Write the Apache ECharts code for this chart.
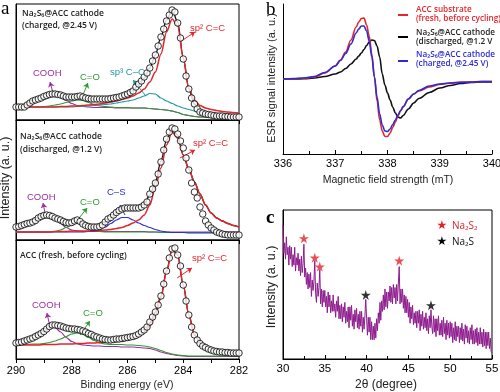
<!DOCTYPE html>
<html><head><meta charset="utf-8">
<script src="https://cdn.jsdelivr.net/npm/echarts/dist/echarts.min.js"></script>
<style>html,body{margin:0;padding:0;background:#fff}#c{width:500px;height:392px}</style>
</head><body><div id="c"></div>
<script>
// ================= DATA =================
// Panel a: XPS C1s, binding energy from 290 eV downward
const xpsStart = 290;
const xpsStepPoints = 0.1;   // measured points (circles)
const xpsStepFit = 0.2;      // fitted curves
const xpsTicks = [290, 288, 286, 284, 282];

// a1 – charged @2.45 V
const a1Points = [13,13,13,13,15,17,19,20,21,22, 23.5,24.5,25.5,26,26,25.5,25,24,23,23, 23,23,23.5,24,23,22,21.5,21,21,21,
  21,21,21,21,21.5,22,22.5,23,24,25, 26,27.5,29,33,36,39,43,47,52,59, 65,74,83,91,99,105,110,108,97,82,
  61,44,31,22,16,11,8,7,6,5.5, 5,4.5,4,4,4,3.5,3.5,3,3,3,3];
const a1Env    = [13,13,15,19,21,23.5,25.5,26,25,23.5, 23,23,22.5,21.5,21,21,21,21.5,22.5,24, 26,29.5,35,42,52,65,83,100,110,98, 62,31,16,9,6.5,5,4.5,4,3.5,3.5,3];
const a1Sp2    = [13,13,13,13,13,13,13,13,13.5,13.5, 14,14,14.5,15,15.5,16,17,18,19,20.5, 22,24,27,31,38,48,66,88,101,94, 62,32,20,14.5,12,10.5,9.5,8.5,8,7.5,7];
const a1Sp3    = [13,13,13,13,13,13,13,13,13,13, 13,13.5,13.5,14,14.5,15,15.5,16,17,18, 19,20,22,24,26.5,26,22,19,16.5,14, 12,10.5,9,8,7,6.5,6,5.5,5.5,5,5];
const a1CO     = [13,13,13,13,13,13.5,14,15,16,17.5, 19,20,19.5,17.5,15.5,14,13.5,13,12.5,12.5, 12.5,12,12,12,11.5,11,10.5,10,9,7.5, 5.5,4.5,3.5,3,3,3,3,3,3,3,3];
const a1COOH   = [13,13.5,14.5,16.5,19,22,24.5,25,23,19.5, 16.5,14.5,13.5,13,12.5,12.5,12.5,12.5,12,12, 12,12,12,12,11.5,11,10.5,10,9,7.5, 5.5,4.5,3.5,3,3,3,3,3,3,3,3];

// a2 – discharged @1.2 V
const a2Points = [13,13.5,14.5,15.5,16.5,17,18,19.5,22,23.5, 24.5,25,24.5,23.5,22,21,20,18.5,17.5,17, 17.5,19,20,18.5,16,14.5,13.5,13,13,13,
  13.5,15,18,21,22.5,25,27.5,29.5,31,32, 32,32,32,32,32,33,35,38,46,51, 57,66,78,90,101,108,112,111,106,99,
  92,82,70,57,48,42,33,26,19,15, 12,10,8,7,6,5.5,5,5,5,5,5];
const a2Env    = [13,14.5,16.5,18.5,22,24.5,24.5,22,20,18, 18,19.5,16.5,14,13.5,14,18,23,27.5,30.5, 31.5,31.5,32.5,36,45,58,79,100,111,105, 85,71,58,46,35,27,22,19,16.5,14.5,13];
const a2Sp2    = [8,8,8,8,8,8,8,8.5,8.5,8.5, 9,9,9,9,9.5,9.5,10,10.5,11.5,12.5, 14.5,17,20,25,35,53,72,95,108,102, 85,71,58,46,35,27,22,19,16.5,14.5,13];
const a2CS     = [8,8,8,8,8,8,8,8,8,8, 8,8,8,8.5,9,10.5,13,16.5,20,22.5, 22.5,20,17,14.5,12.5,10.5,9,8,7.5,7.5, 7.5,7,7,7,7,7,7,7,7,7,7];
const a2CO     = [8,8,8,8,8,8,8,8.5,10,12.5, 15.5,17,15.5,12.5,10,8.5,8,8,8,8, 8,8,8,8,8,8,7.5,7.5,7.5,7.5, 7.5,7.5,7.5,7.5,7.5,7.5,7.5,7.5,7.5,7.5,7.5];
const a2COOH   = [12,14,16.5,19.5,22.5,24.5,24,21,16.5,12.5, 10,9,8.5,8.5,8.5,8.5,8.5,8.5,8.5,8.5, 8.5,8.5,8.5,8.5,8,8,8,8,8,8, 8,8,8,8,8,8,8,8,8,8,8];

// a3 – ACC fresh
const a3Points = [16,16.5,17,18,19,20,21,22.5,24,25.5, 27.5,30,32.5,34,34,33.5,33,32,31,30.5, 30,30,29.5,29,28,27,25.5,24.5,23,22,
  21,20,19.5,19,19,19.5,20,20,20.5,21, 21.5,22,22.5,23.5,25,27,29,32,37,42, 47,54,63,75,88,101,110,111,104,93,
  74,58,44,32,24,19,15.5,13,11.5,10, 9,8,7.5,7,7,6.5,6.5,6,6,6,6];
const a3Env    = [16,17,19,21,24,27.5,32,33.5,33,31, 30,29.5,28,25.5,23,21,19.5,19,19.5,20.5, 21.5,22.5,25,29,36,47,63,88,110,104, 74,44,24,16,12,9.5,8,7,6.5,6,6];
const a3Sp2    = [14,14,14,14,14,14.5,14.5,14.5,15,15, 15,15.5,15.5,16,16,16.5,17,17,17.5,18, 19,20.5,22.5,26.5,33,44,61,87,109,104, 74,44,25,17,13,10.5,9,8,7.5,7,7];
const a3CO     = [14.5,14.5,14.5,15,15,15.5,16.5,18,20,22.5, 25,26,24.5,21.5,18.5,16,15,14.5,14.5,14.5, 14,14,13.5,13,12,10.5,8.5,6.5,5,4, 3.5,3,3,3,3,3,3,3,3,3,3];
const a3COOH   = [15.5,17,19,21.5,25,28.5,31.5,31.5,27,21.5, 17.5,15,14,13.5,13,13,12.5,12.5,12.5,12, 12,12,11.5,11,10.5,9,7,5.5,4.5,3.5, 3,2.5,2.5,2.5,2.5,2.5,2.5,2.5,2.5,2.5,2.5];

// Panel b: ESR spectra (field in mT)
const esrField = [336.0,336.2,336.4,336.6,336.8,337.0,337.1,337.2,337.3,337.4,337.45,337.5,337.55,337.6,337.65,337.7,337.75,337.8,337.85,337.9,
  337.95,338.0,338.05,338.1,338.15,338.2,338.25,338.3,338.4,338.5,338.6,338.8,339.0,339.2,339.4,339.6,339.8,340.0];
const esrFresh      = [0,0.3,0.7,2,6,13,19,27,39,52,57,60.5,61,54,43,25,2,-22,-41,-52,-57.5,-57.5,-54,-48.5,-43,-37,-32,-28,-20,-15,-12,-8,-5.5,-4,-3,-3,-2.5,-2.5];
const esrDischarged = [0,0,0.3,1,2.5,5,7,10.5,15,20,23,26,29.5,33.5,37,39,38.5,33,22,5,-6,-14,-21,-28,-34,-38,-39,-36.5,-30,-24,-19.5,-13.5,-9,-6.5,-4.5,-3.5,-3,-3];
const esrCharged    = [0,0.5,1,2.5,6.5,13,18.5,25.5,35,46,50,53,53,48,38,22,2,-18,-35,-46,-52,-52.5,-50,-45.5,-41,-36,-31.5,-27.5,-20,-15,-11.5,-7,-5,-4,-3.5,-3,-2.5,-2.5];
const esrTicks = [336, 337, 338, 339, 340];

// Panel c: XRD, 2θ from 30° step 0.1°
const xrdStart = 30, xrdStep = 0.1;
const xrdIntensity = [
  90,71,78,67,82,70,75,63,76,67, 75,62,70,63,75,59,68,63,71,59, 67,56,69,58,64,77,55,61,50,58, 47,57,48,58,42,53,46,52,66,44,
  38,51,42,48,60,37,47,35,46,38, 46,35,42,31,45,35,43,31,39,32, 43,32,37,28,39,32,42,27,36,27, 37,25,35,28,38,24,32,25,35,21,
  35,26,36,22,30,20,33,25,34,21, 30,20,32,22,32,18,28,20,29,40, 27,16,28,18,28,13,25,13,22,13, 24,14,27,19,31,24,38,26,39,32,
  43,33,47,35,45,34,45,39,49,38, 48,37,50,41,48,37,50,39,51,62, 37,47,38,47,34,43,31,42,31,40, 28,38,24,35,27,36,23,31,24,32,
  21,32,24,33,19,30,22,32,20,28, 21,31,19,27,17,29,21,33,22,17, 29,18,27,15,27,19,29,16,24,16, 26,15,28,17,24,13,26,16,24,14,
  25,15,24,11,21,13,25,12,22,15, 22,11,21,13,24,12,20,10,23,14, 22,11,19,10,21,13,23,10,19,10, 20,11,21,9,18,10,21,10,18,8,
  20,9,18,7,18,9,18,7,14,5, 4];
const na2s2Peaks = [[32.5, 81], [33.8, 68], [34.4, 62], [43.9, 66]];
const na2sPeaks  = [[39.9, 43], [47.7, 36]];
const xrdTicks = [30, 35, 40, 45, 50, 55];

// Annotation arrows (data coordinates) – [from, to]
const a1Arrows = {COOH: [[288.67,27],[288.78,38]], CO: [[287.63,23],[287.42,37]], sp3: [[285.37,25],[285.80,40]], sp2: [[284.12,78],[283.58,88]]};
const a2Arrows = {COOH: [[288.96,27],[289.03,37]], CO: [[287.88,17],[287.45,32]], CS: [[286.09,25],[286.27,35]], sp2: [[284.12,82],[283.58,90]]};
const a3Arrows = {COOH: [[288.78,32],[288.89,46]], CO: [[287.70,24],[287.35,38]], sp2: [[284.22,81],[283.69,91]]};

// ================= CHART =================
const SANS = '"Liberation Sans", Arial, sans-serif';
const OPEN = '"Open Sans", "DejaVu Sans", sans-serif';
const SERIF = '"Liberation Serif", "DejaVu Serif", serif';
const C = {red:'#E2262B', black:'#111', purple:'#9B2EA0', green:'#2F9A35', teal:'#1E9A9E', blue:'#2A30D2',
           esrRed:'#E5262A', esrBlue:'#2B2BD8', xrd:'#8E1C8E', starRed:'#E3202A'};

const xps = (arr, step) => arr.map((v, i) => [Math.round((xpsStart - i * step) * 100) / 100, v]);
function arrowML(color, a) {
  return {silent:true, symbol:['none','arrow'], symbolSize:5, label:{show:false}, emphasis:{disabled:true},
    lineStyle:{color, width:1, type:'solid'}, animation:false,
    data:[[{coord:a[0]},{coord:a[1]}]]};
}
function fitLine(ax, arr, color, width, z, arrow) {
  const s = {type:'line', xAxisIndex:ax, yAxisIndex:ax, data:xps(arr, xpsStepFit), symbol:'none', showSymbol:false,
    smooth:0.3, smoothMonotone:'x', lineStyle:{color, width}, z, silent:true, animation:false};
  if (arrow) s.markLine = arrowML(color, arrow);
  return s;
}
function pointsSeries(ax, arr) {
  return {type:'scatter', xAxisIndex:ax, yAxisIndex:ax, data:xps(arr, xpsStepPoints), symbol:'circle', symbolSize:6.5,
    itemStyle:{color:'#fff', borderColor:'#000', borderWidth:1}, z:10, silent:true, animation:false};
}

const gridBase = {show:true, borderColor:'#000', borderWidth:1, backgroundColor:'transparent', containLabel:false, outerBoundsMode:'none'};
const grids = [
  Object.assign({left:16, top:4, width:223, height:116}, gridBase),
  Object.assign({left:16, top:120, width:223, height:120}, gridBase),
  Object.assign({left:16, top:240, width:223, height:119}, gridBase),
  {left:283, top:4, width:209, height:150, show:false, containLabel:false, outerBoundsMode:'none'},
  Object.assign({left:283, top:210, width:209, height:149}, gridBase)
];

const tickStyle = {color:'#000', width:1};
function xpsX(i, labels) {
  return {gridIndex:i, type:'value', min:282, max:290, interval:2, inverse:true,
    axisLine:{show:true, onZero:false, lineStyle:tickStyle}, axisTick:{show:true, inside:false, length:4, lineStyle:tickStyle},
    minorTick:{show:true, splitNumber:2, length:4, lineStyle:tickStyle},
    splitLine:{show:false}, minorSplitLine:{show:false},
    axisLabel:{show:labels, color:'#000', fontSize:11, fontFamily:SANS, margin:6, showMinLabel:true, showMaxLabel:true}};
}
function plainY(i, min, max) {
  return {gridIndex:i, type:'value', min, max, axisLine:{show:true, onZero:false, lineStyle:tickStyle}, axisTick:{show:false},
    axisLabel:{show:false}, splitLine:{show:false}};
}

const xAxes = [
  xpsX(0, false), xpsX(1, false), xpsX(2, true),
  {gridIndex:3, type:'value', min:336, max:340, interval:1,
    axisLine:{show:true, onZero:false, lineStyle:tickStyle}, axisTick:{show:true, inside:true, length:4, lineStyle:tickStyle},
    minorTick:{show:true, splitNumber:2, length:3, lineStyle:tickStyle}, splitLine:{show:false},
    axisLabel:{color:'#000', fontSize:11, fontFamily:SANS, margin:4, showMinLabel:true, showMaxLabel:true}},
  {gridIndex:4, type:'value', min:30, max:55, interval:5,
    axisLine:{show:true, onZero:false, lineStyle:tickStyle}, axisTick:{show:true, inside:true, length:4, lineStyle:tickStyle},
    minorTick:{show:true, splitNumber:2, length:3, lineStyle:tickStyle}, splitLine:{show:false},
    axisLabel:{color:'#000', fontSize:11.5, fontFamily:SANS, margin:4, showMinLabel:true, showMaxLabel:true}}
];
const yAxes = [plainY(0, 0, 116), plainY(1, 0, 120), plainY(2, 0, 119), plainY(3, -75, 75), plainY(4, 0, 100)];

const series = [
  // a1
  fitLine(0, a1COOH, C.purple, 1.2, 2, a1Arrows.COOH),
  fitLine(0, a1CO, C.green, 1.2, 2, a1Arrows.CO),
  fitLine(0, a1Sp3, C.teal, 1.2, 3, a1Arrows.sp3),
  fitLine(0, a1Env, C.black, 1.3, 4),
  fitLine(0, a1Sp2, C.red, 1.5, 5, a1Arrows.sp2),
  pointsSeries(0, a1Points),
  // a2
  fitLine(1, a2COOH, C.purple, 1.2, 2, a2Arrows.COOH),
  fitLine(1, a2CO, C.green, 1.2, 2, a2Arrows.CO),
  fitLine(1, a2CS, C.blue, 1.2, 3, a2Arrows.CS),
  fitLine(1, a2Env, C.black, 1.3, 4),
  fitLine(1, a2Sp2, C.red, 1.5, 5, a2Arrows.sp2),
  pointsSeries(1, a2Points),
  // a3
  fitLine(2, a3COOH, C.purple, 1.2, 2, a3Arrows.COOH),
  fitLine(2, a3CO, C.green, 1.2, 2, a3Arrows.CO),
  fitLine(2, a3Env, C.black, 1.3, 4),
  fitLine(2, a3Sp2, C.red, 1.5, 5, a3Arrows.sp2),
  pointsSeries(2, a3Points),
  // b
  {type:'line', xAxisIndex:3, yAxisIndex:3, data:esrField.map((x,i)=>[x, esrDischarged[i]]), symbol:'none', smooth:0.35, smoothMonotone:'x', lineStyle:{color:C.black, width:1.6}, z:3, silent:true, animation:false},
  {type:'line', xAxisIndex:3, yAxisIndex:3, data:esrField.map((x,i)=>[x, esrFresh[i]]), symbol:'none', smooth:0.35, smoothMonotone:'x', lineStyle:{color:C.esrRed, width:1.6}, z:4, silent:true, animation:false},
  {type:'line', xAxisIndex:3, yAxisIndex:3, data:esrField.map((x,i)=>[x, esrCharged[i]]), symbol:'none', smooth:0.35, smoothMonotone:'x', lineStyle:{color:C.esrBlue, width:1.6}, z:5, silent:true, animation:false},
  // c
  {type:'line', xAxisIndex:4, yAxisIndex:4, data:xrdIntensity.map((v,i)=>[Math.round((xrdStart + i*xrdStep)*10)/10, v]), symbol:'none', lineStyle:{color:C.xrd, width:1}, z:3, silent:true, animation:false},
  {type:'scatter', xAxisIndex:4, yAxisIndex:4, data:na2s2Peaks, symbol:'path://M50,0 L61,35 L98,35 L68,57 L79,91 L50,70 L21,91 L32,57 L2,35 L39,35 Z', symbolSize:10, itemStyle:{color:C.starRed}, z:6, silent:true, animation:false},
  {type:'scatter', xAxisIndex:4, yAxisIndex:4, data:na2sPeaks, symbol:'path://M50,0 L61,35 L98,35 L68,57 L79,91 L50,70 L21,91 L32,57 L2,35 L39,35 Z', symbolSize:10, itemStyle:{color:'#000'}, z:6, silent:true, animation:false}
];

function T(text, x, y, opt) {
  opt = opt || {};
  return {type:'text', x, y, rotation:opt.rot || 0, silent:true, z:100,
    style:{text, fill:opt.color || '#111', fontSize:opt.size || 9, fontFamily:opt.family || SANS, fontWeight:opt.weight || 'normal',
      align:opt.align || 'left', verticalAlign:'middle'}};
}
const sb = {family:OPEN, weight:600, size:8.5, color:'#222'};
const lg = (color) => ({family:OPEN, weight:600, size:8.2, color});
const graphic = [
  T('a', 1, 9, {family:SERIF, size:19, weight:'normal', color:'#000'}),
  T('b', 266, 10, {family:SERIF, size:19, weight:'normal', color:'#000'}),
  T('c', 266, 218, {family:SERIF, size:19, weight:'bold', color:'#000'}),
  // a1
  T('Na₂S₆@ACC cathode', 22, 14, sb), T('(charged, @2.45 V)', 22, 26, sb),
  T('sp² C=C', 190, 28, {color:C.red, size:9.5}), T('COOH', 33, 73, {color:C.purple, size:9.5}),
  T('C=O', 80, 77, {color:C.green, size:9.5}), T('sp³ C–C', 110, 72, {color:C.teal, size:9.5}),
  // a2
  T('Na₂S₆@ACC cathode', 20, 137, sb), T('(discharged, @1.2 V)', 20, 150, sb),
  T('sp² C=C', 193, 143, {color:C.red, size:9.5}), T('COOH', 27, 197, {color:C.purple, size:9.5}),
  T('C=O', 80, 202, {color:C.green, size:9.5}), T('C–S', 107, 192, {color:C.blue, size:9.5}),
  // a3
  T('ACC (fresh, before cycling)', 20, 256, sb),
  T('sp² C=C', 192, 258, {color:C.red, size:9.5}), T('COOH', 32, 305, {color:C.purple, size:9.5}),
  T('C=O', 83, 313, {color:C.green, size:9.5}),
  // axis titles
  T('Binding energy (eV)', 127, 385, {size:10.5, align:'center', color:'#222'}),
  T('Intensity (a. u.)', 6, 178, {size:12.5, align:'center', rot:Math.PI/2, color:'#222'}),
  T('Magnetic field strength (mT)', 388, 180, {size:10.5, align:'center', color:'#222'}),
  T('ESR signal intensity (a. u.)', 272, 78, {size:11, align:'center', rot:Math.PI/2, color:'#222'}),
  T('2θ (degree)', 386, 385, {size:12, align:'center', color:'#222'}),
  T('Intensity (a. u.)', 272, 287, {size:12.5, align:'center', rot:Math.PI/2, color:'#222'}),
  // b legend
  {type:'line', shape:{x1:398, y1:15, x2:408, y2:15}, style:{stroke:C.esrRed, lineWidth:2}, silent:true},
  T('ACC substrate', 416, 10, lg(C.esrRed)), T('(fresh, before cycling)', 416, 18.5, lg(C.esrRed)),
  {type:'line', shape:{x1:398, y1:37, x2:408, y2:37}, style:{stroke:'#000', lineWidth:2}, silent:true},
  T('Na₂S₆@ACC cathode', 416, 33, lg('#222')), T('(discharged, @1.2 V', 416, 42, lg('#222')),
  {type:'line', shape:{x1:398, y1:61, x2:408, y2:61}, style:{stroke:C.esrBlue, lineWidth:2}, silent:true},
  T('Na₂S₆@ACC cathode', 416, 55, lg(C.esrBlue)), T('(charged, @2.45 V)', 416, 64, lg(C.esrBlue)),
  // c legend
  T('★', 442, 226, {family:'"DejaVu Sans", sans-serif', size:12, align:'center', color:C.starRed}),
  T('Na₂S₂', 452, 226, {family:OPEN, size:10, color:C.starRed}),
  T('★', 442, 242, {family:'"DejaVu Sans", sans-serif', size:12, align:'center', color:'#000'}),
  T('Na₂S', 452, 242, {family:OPEN, size:10, color:'#111'})
];

const chart = echarts.init(document.getElementById('c'), null, {renderer:'canvas', width:500, height:392});
chart.setOption({animation:false, backgroundColor:'#fff', grid:grids, xAxis:xAxes, yAxis:yAxes, series, graphic, tooltip:{show:false}});
</script></body></html>
